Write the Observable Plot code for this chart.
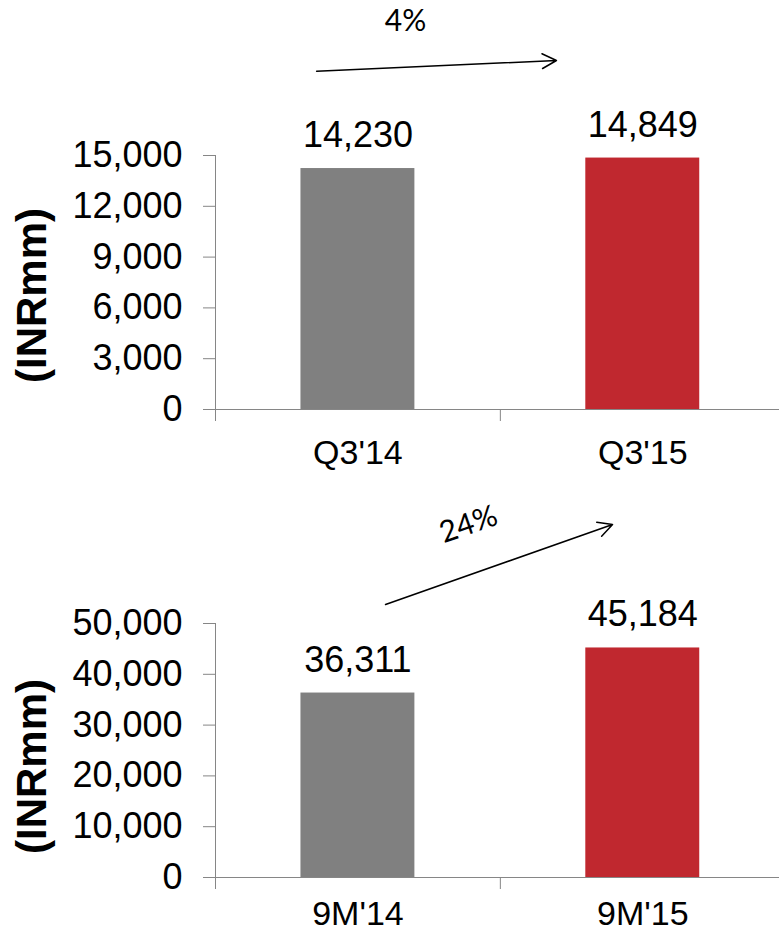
<!DOCTYPE html>
<html><head><meta charset="utf-8">
<script src="https://cdn.jsdelivr.net/npm/d3@7"></script>
<script src="https://cdn.jsdelivr.net/npm/@observablehq/plot@0.6"></script>
<style>body{margin:0;background:#fff;overflow:hidden} svg{display:block}</style>
</head><body><div id="chart"></div>
<script>
const quarterCategories = ["Q3'14", "Q3'15"];
const quarterValues = [14230, 14849];
const quarterTicks = [0, 3000, 6000, 9000, 12000, 15000];
const quarterGrowth = ["4%"];
const ytdCategories = ["9M'14", "9M'15"];
const ytdValues = [36311, 45184];
const ytdTicks = [0, 10000, 20000, 30000, 40000, 50000];
const ytdGrowth = ["24%"];
const barColors = ["#808080", "#C0282F"];
const yLabel = "(INRmm)";

const fmt = d3.format(",");
const AXIS = "#868686";

function panel(cfg) {
  const rows = cfg.cats.map((c, i) => ({cat: c, value: cfg.vals[i], i}));
  const yMax = cfg.ticks[cfg.ticks.length - 1];
  return Plot.plot({
    width: 779, height: cfg.height,
    marginLeft: 215, marginRight: 0, marginTop: cfg.marginTop, marginBottom: cfg.marginBottom,
    x: {domain: [0, 1.98], axis: null},
    y: {domain: [0, yMax], axis: null},
    color: {domain: cfg.cats, range: barColors},
    style: {fontFamily: "'Liberation Sans', Arial, sans-serif", color: "black", background: "white"},
    marks: [
      Plot.rectY(rows, {x1: d => d.i + 0.3, x2: d => d.i + 0.7, y: "value", fill: "cat"}),
      Plot.ruleY([0], {stroke: AXIS, insetLeft: -12}),
      Plot.ruleX([0], {y1: 0, y2: yMax, stroke: AXIS}),
      Plot.axisX({ticks: [0, 1, 2], tickSize: 12, tickFormat: () => "", stroke: AXIS}),
      Plot.axisY({ticks: cfg.ticks, tickSize: 12, tickPadding: 21, tickFormat: fmt, fontSize: 36, stroke: AXIS, color: "black"}),
      Plot.text(rows, {x: d => d.i + 0.5, y: "value", text: d => fmt(d.value), dy: -33, fontSize: 36}),
      Plot.text(rows, {x: d => d.i + 0.5, y: 0, text: "cat", dy: cfg.catDy, fontSize: 34}),
      Plot.text([yLabel], {frameAnchor: "left", textAnchor: "middle", y: () => cfg.titleY, dx: -183, rotate: -90, fontWeight: "bold", fontSize: 42}),
      Plot.arrow([cfg.arrow], {x1: "x1", y1: "y1", x2: "x2", y2: "y2", stroke: "black", strokeWidth: 1.5, headLength: 16, headAngle: 55}),
      Plot.text(cfg.growth, {x: cfg.arrow.tx, y: cfg.arrow.ty, rotate: cfg.arrow.rot, fontSize: 30, fontFamily: "Lato, 'Open Sans', sans-serif"})
    ]
  });
}

const root = document.getElementById("chart");
root.append(panel({
  cats: quarterCategories, vals: quarterValues, ticks: quarterTicks, growth: quarterGrowth,
  height: 480, marginTop: 155, marginBottom: 71, catDy: 44, titleY: 6732,
  arrow: {x1: 0.355, y1: 19978, x2: 1.197, y2: 20610, tx: 0.667, ty: 22943, rot: 0}
}));
root.append(panel({
  cats: ytdCategories, vals: ytdValues, ticks: ytdTicks, growth: ytdGrowth,
  height: 455, marginTop: 143, marginBottom: 58, catDy: 37, titleY: 21850,
  arrow: {x1: 0.597, y1: 53740, x2: 1.394, y2: 69488, tx: 0.888, ty: 69488, rot: -19}
}));
</script>
</body></html>
